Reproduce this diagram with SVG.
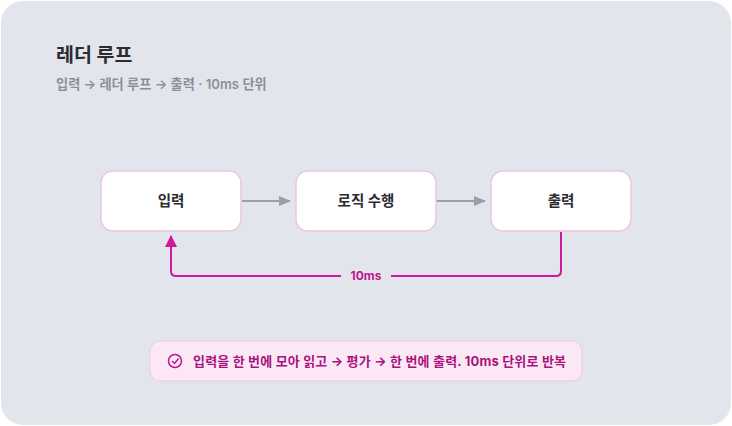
<svg xmlns="http://www.w3.org/2000/svg" width="732" height="426" viewBox="0 0 732 426">
<style>
text{font-family:Inter,"Noto Sans CJK KR",sans-serif;}
.node rect{fill:#fff;stroke:#ecc5e0;stroke-width:1.5;}
.node text{font-size:14.5px;font-weight:700;fill:#2b2b30;text-anchor:middle;}
.flow{stroke:#9a9ea6;stroke-width:2;fill:none;}
.loop{stroke:#d0189b;stroke-width:2;fill:none;}
</style>
<defs>
<marker id="ag" markerWidth="12" markerHeight="10" refX="11" refY="5" orient="auto" markerUnits="userSpaceOnUse"><path d="M0,0 L12,5 L0,10 Z" fill="#9a9ea6"/></marker>
<marker id="am" markerWidth="12" markerHeight="12" refX="11" refY="6" orient="auto" markerUnits="userSpaceOnUse"><path d="M0,0 L12,6 L0,12 Z" fill="#d0189b"/></marker>
</defs>
<rect x="0" y="0" width="732" height="426" fill="#fff"/>
<rect x="1" y="1" width="730" height="424" rx="22" fill="#e3e5ed"/>
<text x="56" y="62" font-size="19.5" font-weight="700" fill="#2b2b30">레더 루프</text>
<text x="56" y="89" font-size="13.2" font-weight="600" fill="#8c8f97">입력 → 레더 루프 → 출력 · 10ms 단위</text>
<g id="connectors">
<line class="flow" x1="242" y1="201" x2="290" y2="201" marker-end="url(#ag)"/>
<line class="flow" x1="437" y1="201" x2="485" y2="201" marker-end="url(#ag)"/>
<path class="loop" d="M561,232 V271 Q561,276 556,276 H176 Q171,276 171,271 V236" marker-end="url(#am)"/>
<rect x="341" y="268" width="50" height="16" fill="#e3e5ed"/>
<text x="366" y="280" font-size="12" font-weight="700" fill="#c0168f" text-anchor="middle">10ms</text>
</g>
<g id="n1" class="node"><rect x="101" y="171" width="140" height="60" rx="12"/><text x="171" y="206">입력</text></g>
<g id="n2" class="node"><rect x="296" y="171" width="140" height="60" rx="12"/><text x="366" y="206">로직 수행</text></g>
<g id="n3" class="node"><rect x="491" y="171" width="140" height="60" rx="12"/><text x="561" y="206">출력</text></g>
<g id="note">
<rect x="150" y="341" width="432" height="40" rx="10" fill="#fce8f5" stroke="#f3c7e4" stroke-width="1"/>
<circle cx="175" cy="361" r="6.5" fill="none" stroke="#c0168f" stroke-width="1.5"/>
<path d="M172,361 L174.5,363.5 L178.5,358.5" fill="none" stroke="#c0168f" stroke-width="1.5"/>
<text x="193" y="366" font-size="13" font-weight="700" fill="#a8137e" textLength="373" lengthAdjust="spacing">입력을 한 번에 모아 읽고 → 평가 → 한 번에 출력. 10ms 단위로 반복</text>
</g>
</svg>
